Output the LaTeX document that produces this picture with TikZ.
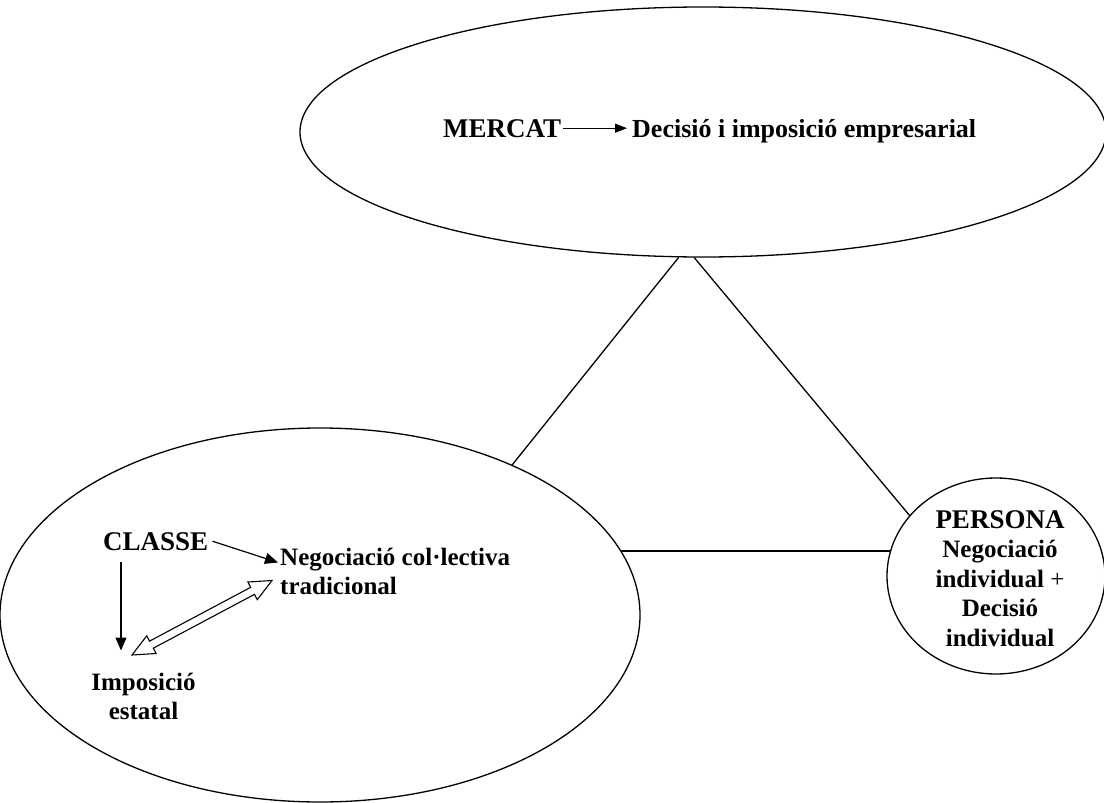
\documentclass[tikz,border=0pt]{standalone}
\usepackage{fontspec}
\setmainfont{Liberation Serif}
\usetikzlibrary{shapes.geometric,arrows.meta,calc}

\begin{document}
\begin{tikzpicture}[x=1pt,y=-1pt,
  ring/.style={draw,ellipse,line width=1.3pt,inner sep=0pt},
  link/.style={line width=1.3pt},
  big/.style={font=\bfseries\fontsize{27}{32}\selectfont,inner sep=0pt},
  small/.style={font=\bfseries\fontsize{25}{29.5}\selectfont,inner sep=0pt},
  solidarrow/.style={line width=1.2pt,-{Triangle[length=13pt,width=11pt]}},
  thinarrow/.style={line width=1pt,-{Triangle[length=12pt,width=9pt]}},
]
\useasboundingbox (0,0) rectangle (1104,803);
\fill[white] (0,0) rectangle (1104,803);

% the three spheres
\node[ring,minimum width=806pt,minimum height=250pt] (mercat) at (703,132) {};
\node[ring,minimum width=640pt,minimum height=374pt] (classe) at (320,615) {};
\node[ring,minimum width=218pt,minimum height=196pt] (persona) at (996,576) {};

% the triangle joining them
\draw[link] (mercat.-101.8) -- (classe.38.9);
\draw[link] (mercat.-94.6) -- (persona.145.9);
\draw[link] (classe.12.6) -- (persona.165.1 |- classe.12.6);

% market
\node[big,anchor=base west] (mercatlbl) at (443,137) {MERCAT};
\node[font=\bfseries\fontsize{26}{30}\selectfont,inner sep=0pt,anchor=base west] (decisio) at (632,137) {Decisió i imposició empresarial};
\draw[thinarrow] ([xshift=2pt]mercatlbl.east) -- ([xshift=-5pt]mercatlbl.east -| decisio.west);

% class
\node[big,anchor=base west] (classelbl) at (103,550) {CLASSE};
\node[small,align=left,anchor=north west] (negoc) at (280,547.5) {Negociació col·lectiva\\tradicional};
\node[small,align=center,anchor=north] (impos) at (143.5,672.5) {Imposició\\estatal};
\draw[solidarrow] ([xshift=4pt]classelbl.east) -- ([shift={(-2,15)}]negoc.north west);
\draw[solidarrow] ([shift={(18,12)}]classelbl.south west) -- ([shift={(-22.5,-22)}]impos.north);

% hollow two-way arrow between state imposition and collective bargaining
\coordinate (dA) at ([shift={(-11.5,-17.5)}]impos.north);
\coordinate (dB) at ([shift={(-8,33)}]negoc.north west);
\coordinate (hA) at ($(dA)!22pt!(dB)$);
\coordinate (hB) at ($(dB)!22pt!(dA)$);
\draw[line width=1.1pt,fill=white,line join=miter]
  (dA) -- ($(hA)!10pt!90:(dB)$) -- ($(hA)!4pt!90:(dB)$)
  -- ($(hB)!4pt!-90:(dA)$) -- ($(hB)!10pt!-90:(dA)$) -- (dB)
  -- ($(hB)!10pt!90:(dA)$) -- ($(hB)!4pt!90:(dA)$)
  -- ($(hA)!4pt!-90:(dB)$) -- ($(hA)!10pt!-90:(dB)$) -- cycle;

% person
\node[small,align=center,anchor=north] (perslbl) at (1000,510)
  {{\fontsize{27}{29.5}\selectfont PERSONA}\\Negociació\\individual {\mdseries+}\\Decisió\\individual};
\end{tikzpicture}
\end{document}
